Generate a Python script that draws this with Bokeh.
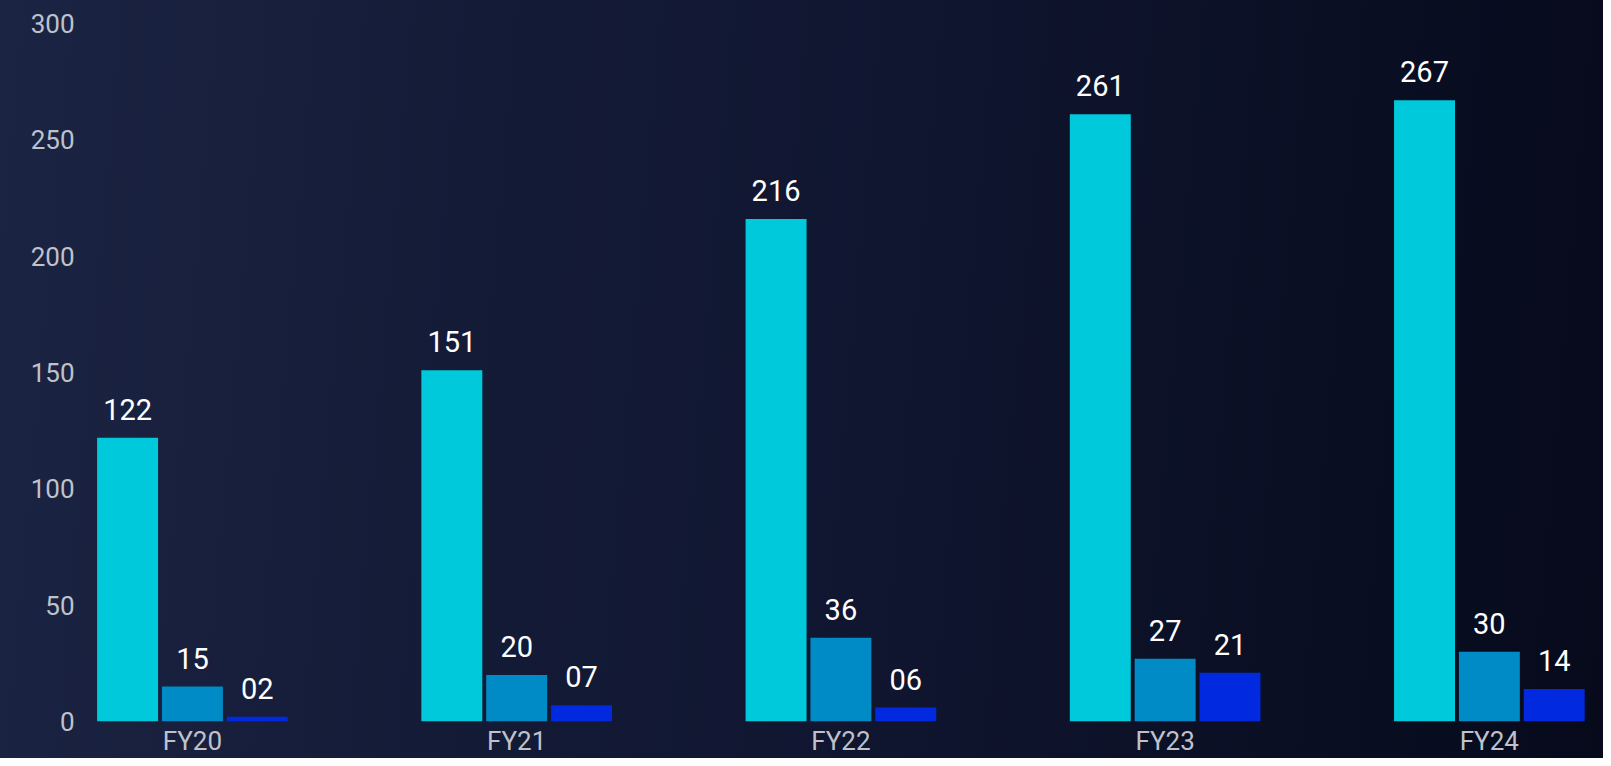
from bokeh.plotting import figure
from bokeh.models import ColumnDataSource, Range1d, FixedTicker, SingleIntervalTicker, LabelSet
from bokeh.core.properties import value
from bokeh.transform import dodge
from bokeh.embed import file_html
from bokeh.resources import INLINE

years = ["FY20", "FY21", "FY22", "FY23", "FY24"]
series_a = [122, 151, 216, 261, 267]
series_b = [15, 20, 36, 27, 30]
series_c = [2, 7, 6, 21, 14]

colors = ["#00C9DB", "#008AC6", "#0029E0"]
idx = list(range(len(years)))

src = ColumnDataSource(dict(
    x=idx,
    a=series_a, b=series_b, c=series_c,
    la=[f"{v:02d}" for v in series_a],
    lb=[f"{v:02d}" for v in series_b],
    lc=[f"{v:02d}" for v in series_c],
))

p = figure(width=1603, height=758, output_backend="svg", toolbar_location=None,
           x_range=Range1d(-0.336, 4.352), y_range=Range1d(0, 300),
           min_border_left=83, min_border_right=0, min_border_top=23, min_border_bottom=35,
           background_fill_color=None, border_fill_color=None, outline_line_color=None)
p.styles = {"background": "linear-gradient(95deg, #1b2443 0%, #141b37 30%, #101630 55%, #0a0f24 80%, #060a1b 100%)"}

bw = 0.188
for key, lab, off, col in [("a", "la", -0.2, colors[0]), ("b", "lb", 0.0, colors[1]), ("c", "lc", 0.2, colors[2])]:
    p.vbar(x=dodge("x", off), top=key, width=bw, bottom=0, source=src,
           fill_color=col, line_color=None)
    p.add_layout(LabelSet(x=dodge("x", off), y=key, text=lab, source=src,
                          text_align="center", text_baseline="alphabetic", y_offset=18,
                          text_color="white", text_font=value("Roboto"), text_font_size="29px"))

p.xgrid.visible = False
p.ygrid.visible = False

p.xaxis.ticker = FixedTicker(ticks=idx)
p.xaxis.major_label_overrides = {i: y for i, y in zip(idx, years)}
p.yaxis.ticker = SingleIntervalTicker(interval=50)
for ax in (p.xaxis[0], p.yaxis[0]):
    ax.axis_line_color = None
    ax.major_tick_line_color = None
    ax.minor_tick_line_color = None
    ax.major_tick_out = 0
    ax.major_tick_in = 0
    ax.minor_tick_out = 0
    ax.minor_tick_in = 0
    ax.major_label_text_color = "#bfc2cb"
    ax.major_label_text_font = "Roboto"
p.xaxis.major_label_text_font_size = "26px"
p.xaxis.major_label_standoff = 4
p.yaxis.major_label_text_font_size = "26px"
p.yaxis.major_label_standoff = 9

open("out.html", "w").write(file_html(p, INLINE))
